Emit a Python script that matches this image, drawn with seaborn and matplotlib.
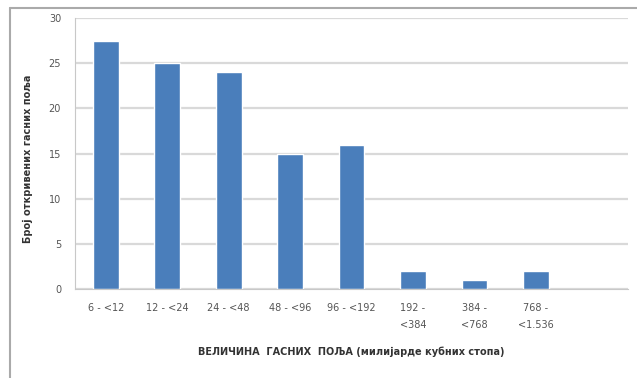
import matplotlib
matplotlib.use('Agg')
import matplotlib.pyplot as plt
import seaborn as sns
import pandas as pd

# data
categories = ["6 - <12", "12 - <24", "24 - <48", "48 - <96", "96 - <192",
              "192 -\n<384", "384 -\n<768", "768 -\n<1.536"]
counts = [27.5, 25, 24, 15, 16, 2, 1, 2]
order = categories + [" "]  # empty slot at the right end

df = pd.DataFrame({"Category": categories, "Count": counts})

sns.set_style("white")
plt.rcParams['font.family'] = ['DejaVu Sans']

fig = plt.figure(figsize=(6.37, 3.78), dpi=100)
ax = fig.add_axes([0.1177, 0.2354, 0.8683, 0.7166])

sns.barplot(data=df, x="Category", y="Count", order=order, color="#4a7ebb",
            saturation=1, width=0.42, ax=ax)

ax.set_ylim(0, 30)
ax.set_yticks(range(0, 31, 5))
ax.yaxis.grid(True, color="#d9d9d9", linewidth=1.6)
ax.set_axisbelow(True)
for side in ["top", "right"]:
    ax.spines[side].set_visible(False)
ax.spines["left"].set_color("#c8c8c8")
ax.spines["bottom"].set_color("#c8c8c8")
ax.tick_params(axis="y", length=0, pad=10, labelsize=7, labelcolor="#555555")
ax.tick_params(axis="x", length=0, pad=10, labelsize=7, labelcolor="#555555")
for lbl in ax.get_xticklabels():
    lbl.set_linespacing(1.9)

ax.set_xlabel("ВЕЛИЧИНА  ГАСНИХ  ПОЉА (милијарде кубних стопа)",
              fontsize=7, fontweight="bold", color="#333333", labelpad=12)
ax.set_ylabel("Број откривених гасних поља", fontsize=7, fontweight="bold",
              color="#333333", labelpad=8)
ax.yaxis.set_label_coords(-0.075, 0.48)

# frame lines of the clipped chart area
fig.add_artist(plt.Line2D([10 / 637, 10 / 637], [0, 1 - 8 / 378],
                          transform=fig.transFigure, color="#aaaaaa", linewidth=1.5))
fig.add_artist(plt.Line2D([10 / 637, 1], [1 - 8 / 378, 1 - 8 / 378],
                          transform=fig.transFigure, color="#aaaaaa", linewidth=1.5))

fig.savefig("out.png", dpi=100)
